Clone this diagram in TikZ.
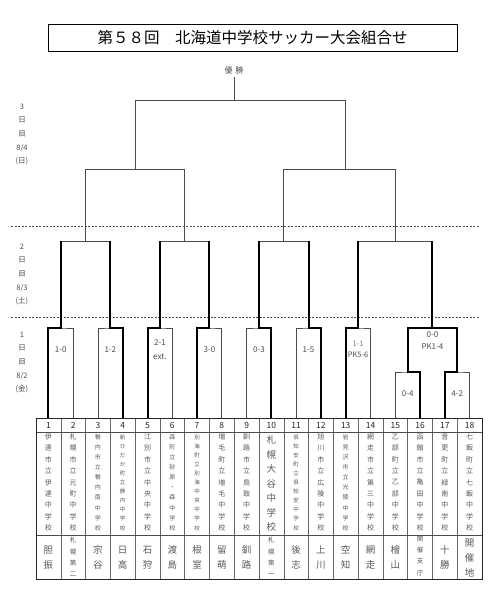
\documentclass[tikz,border=0pt]{standalone}
\usepackage{fontspec}
\setmainfont{Noto Sans CJK JP}
\usepackage{tikz}
\usetikzlibrary{positioning}
\tikzset{thin line/.style={draw=black!70,line width=0.8pt}}
\tikzset{win line/.style={draw=black,line width=2pt}}
\tikzset{day line/.style={draw=black!70,line width=0.6pt,dash pattern=on 2pt off 1.5pt}}
\tikzset{score node/.style={font=\fontsize{8}{12}\selectfont,text=black!70,align=center,inner sep=0pt}}
\tikzset{day node/.style={font=\fontsize{7.5}{13.7}\selectfont,text=black!70,align=center,inner sep=0pt}}
\tikzset{num node/.style={font=\fontsize{8.5}{10}\selectfont,text=black!85,inner sep=0pt}}
\tikzset{school node/.style={font=\fontsize{7}{11.4}\selectfont,text=black!65,align=center,inner sep=0pt}}
\tikzset{small school node/.style={school node,font=\fontsize{6}{10.1}\selectfont}}
\tikzset{tiny school node/.style={school node,font=\fontsize{5.5}{9.1}\selectfont}}
\tikzset{big school node/.style={school node,font=\fontsize{9.5}{14.5}\selectfont}}
\tikzset{region node/.style={font=\fontsize{9.5}{15}\selectfont,text=black!65,align=center,inner sep=0pt}}
\tikzset{small region node/.style={region node,font=\fontsize{6.5}{11.3}\selectfont}}

\begin{document}
\begin{tikzpicture}[x=1pt,y=-1pt]
\useasboundingbox (0,0) rectangle (500,600);

% title
\node[draw,line width=0.8pt,minimum width=409pt,minimum height=27pt,inner sep=0pt,
  font=\fontsize{15.5}{16}\selectfont] (title) at (252.5,37.5) {第５８回　北海道中学校サッカー大会組合せ};

% day separators and labels
\coordinate (sepL1) at (11,226);
\coordinate (sepR1) at (480,226);
\coordinate (sepL2) at (11,317);
\coordinate (sepR2) at (480,317);
\draw[day line] (sepL1) -- (sepR1);
\draw[day line] (sepL2) -- (sepR2);

\node[day node] (day3) at (22,134.5) {3\\日\\目\\8/4\\(日)};
\node[day node] (day2) at (22,274.5) {2\\日\\目\\8/3\\(土)};
\node[day node] (day1) at (22,362.5) {1\\日\\目\\8/2\\(金)};

% table
\draw[black!60,line width=0.5pt] \foreach \i in {1,...,17}{ ({36+24.778*\i},418) -- ({36+24.778*\i},579) };
\draw[black!70,line width=0.6pt] (36,432) -- (482,432);
\draw[black!70,line width=0.6pt] (36,535) -- (482,535);
\draw[black!85,line width=1pt] (36,418) rectangle (482,579);

\foreach \i in {1,...,18}{
    \pgfmathsetmacro\cx{36+24.778*(\i-0.5)}
    \coordinate (t\i) at (\cx,418);
    \node[num node] (n\i) at (\cx,425.5) {\i};
}

% school names
\node[school node] (s1) at (48.39,482.5) {伊\\達\\市\\立\\伊\\達\\中\\学\\校};
\node[school node] (s2) at (73.17,482.5) {札\\幌\\市\\立\\元\\町\\中\\学\\校};
\node[small school node] (s3) at (97.95,482.5) {稚\\内\\市\\立\\稚\\内\\南\\中\\学\\校};
\node[tiny school node] (s4) at (122.72,482.5) {新\\ひ\\だ\\か\\町\\立\\静\\内\\中\\学\\校};
\node[school node] (s5) at (147.50,482.5) {江\\別\\市\\立\\中\\央\\中\\学\\校};
\node[small school node] (s6) at (172.28,482.5) {森\\町\\立\\砂\\原\\・\\森\\中\\学\\校};
\node[tiny school node] (s7) at (197.06,482.5) {別\\海\\町\\立\\別\\海\\中\\央\\中\\学\\校};
\node[school node] (s8) at (221.83,482.5) {増\\毛\\町\\立\\増\\毛\\中\\学\\校};
\node[school node] (s9) at (246.61,482.5) {釧\\路\\市\\立\\鳥\\取\\中\\学\\校};
\node[big school node] (s10) at (271.39,483.5) {札\\幌\\大\\谷\\中\\学\\校};
\node[tiny school node] (s11) at (296.17,482.5) {倶\\知\\安\\町\\立\\倶\\知\\安\\中\\学\\校};
\node[school node] (s12) at (320.94,482.5) {旭\\川\\市\\立\\広\\陵\\中\\学\\校};
\node[small school node] (s13) at (345.72,482.5) {岩\\見\\沢\\市\\立\\光\\陵\\中\\学\\校};
\node[school node] (s14) at (370.50,482.5) {網\\走\\市\\立\\第\\三\\中\\学\\校};
\node[school node] (s15) at (395.28,482.5) {乙\\部\\町\\立\\乙\\部\\中\\学\\校};
\node[school node] (s16) at (420.06,482.5) {函\\館\\市\\立\\亀\\田\\中\\学\\校};
\node[school node] (s17) at (444.83,482.5) {音\\更\\町\\立\\緑\\南\\中\\学\\校};
\node[school node] (s18) at (469.61,482.5) {七\\飯\\町\\立\\七\\飯\\中\\学\\校};

% regions
\foreach \i/\cx/\reg in {1/48.39/胆\\振, 3/97.95/宗\\谷, 4/122.72/日\\高, 5/147.50/石\\狩,
    6/172.28/渡\\島, 7/197.06/根\\室, 8/221.83/留\\萌, 9/246.61/釧\\路, 11/296.17/後\\志,
    12/320.94/上\\川, 13/345.72/空\\知, 14/370.50/網\\走, 15/395.28/檜\\山, 17/444.83/十\\勝}{
    \node[region node] (g\i) at (\cx,557.5) {\reg};
}
\node[small region node] (g2) at (73.17,557) {札\\幌\\第\\二};
\node[small region node] (g10) at (271.39,557) {札\\幌\\第\\一};
\node[small region node] (g16) at (420.06,556) {開\\催\\支\\庁};
\node[region node] (g18) at (469.61,557.5) {開\\催\\地};

% bracket junctions
\coordinate (a1) at (60.78,328);
\coordinate (a2) at (110.34,328);
\coordinate (a3) at (159.89,328);
\coordinate (a4) at (209.45,328);
\coordinate (a5) at (259.00,328);
\coordinate (a6) at (308.56,328);
\coordinate (a7) at (358.11,328);
\coordinate (a8) at (407.67,372);
\coordinate (a9) at (457.22,372);
\coordinate (a10) at (432.44,328);
\coordinate (b1) at (85.56,241);
\coordinate (b2) at (184.67,241);
\coordinate (b3) at (283.78,241);
\coordinate (b4) at (395.28,241);
\coordinate (c1) at (135.1,169);
\coordinate (c2) at (345.5,169);
\coordinate (d) at (234,100);

% first round
\foreach \a/\b/\m in {1/2/a1,3/4/a2,5/6/a3,7/8/a4,9/10/a5,11/12/a6,13/14/a7}{
    \draw[thin line] (t\a) |- (\m) -| (t\b);
}
\draw[thin line] (t15) |- (a8) -| (t16);
\draw[thin line] (t17) |- (a9) -| (t18);

% later rounds
\foreach \p/\q/\m in {a1/a2/b1,a3/a4/b2,a5/a6/b3,a7/a10/b4}{
    \draw[thin line] (\p |- \m) -- (\q |- \m);
}
\draw[thin line] (b1) -- (b1 |- c1) -- (b2 |- c1) -- (b2);
\draw[thin line] (b3) -- (b3 |- c2) -- (b4 |- c2) -- (b4);
\draw[thin line] (c1) -- (c1 |- d) -- (c2 |- d) -- (c2);

\node[day node,font=\fontsize{8}{10}\selectfont,anchor=south,inner sep=2.5pt] (champ) at (234,77) {優\,\,勝};
\draw[thin line] (d) -- (champ.south);

% winners
\foreach \w/\m/\r in {1/a1/b1,4/a2/b1,5/a3/b2,7/a4/b2,10/a5/b3,12/a6/b3,13/a7/b4}{
    \draw[win line] (t\w) |- (\m) -- (\m |- \r);
}
\draw[win line] (t16) |- (a8) |- (a10) -| (a9) -| (t17);
\draw[win line] (a10) -- (a10 |- b4);

% scores
\node[score node] (r1) at (60.78,350) {1-0};
\node[score node] (r2) at (110.34,350) {1-2};
\node[score node,font=\fontsize{8}{14}\selectfont] (r3) at (159.89,350) {2-1\\ext.};
\node[score node] (r4) at (209.45,350) {3-0};
\node[score node] (r5) at (259.00,350) {0-3};
\node[score node] (r6) at (308.56,350) {1-5};
\node[score node,font=\fontsize{7.5}{11.5}\selectfont] (r7) at (358.11,349.5) {{\color{black!50}1-1}\\PK5-6};
\node[score node,font=\fontsize{8}{12}\selectfont] (r10) at (432.44,341) {0-0\\PK1-4};
\node[score node] (r8) at (407.67,394) {0-4};
\node[score node] (r9) at (457.22,394) {4-2};

\end{tikzpicture}
\end{document}
